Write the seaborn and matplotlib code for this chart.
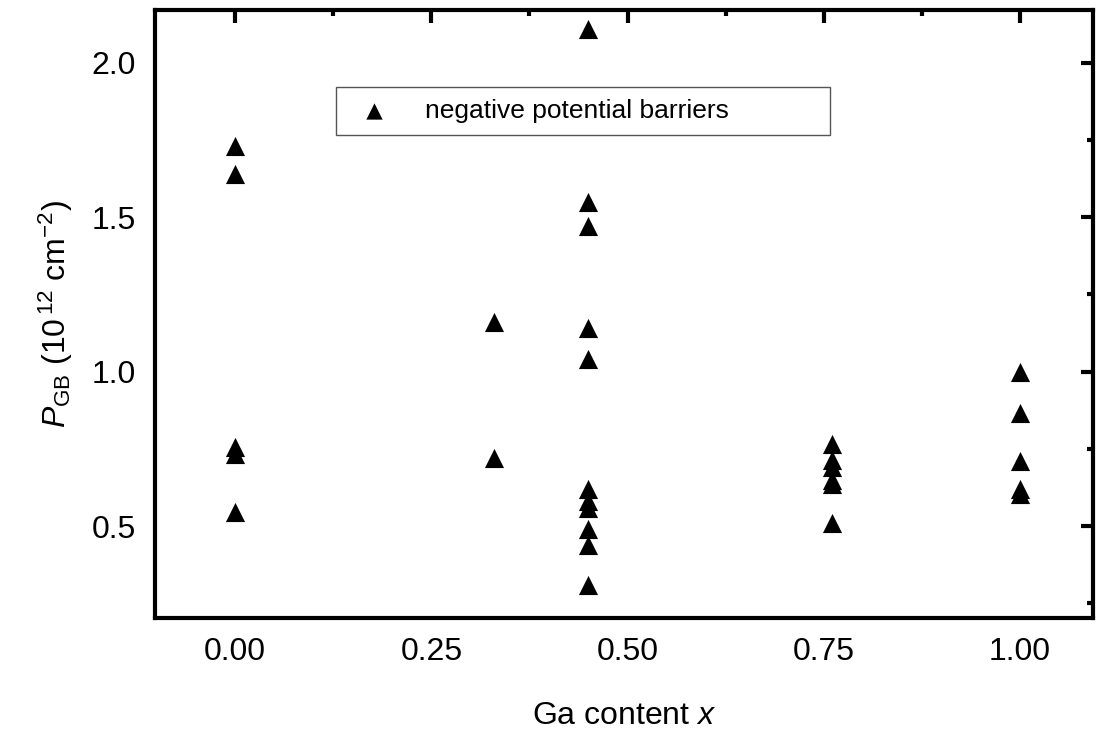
import pandas as pd
import numpy as np
import matplotlib
matplotlib.use("Agg")
import matplotlib.pyplot as plt
import seaborn as sns
from matplotlib.ticker import MultipleLocator, FormatStrFormatter

# Ga content of each sample group
ga_levels = [0.0, 0.33, 0.45, 0.76, 1.0]

# P_GB (10^12 cm^-2) measured per group
p_gb_000 = [1.73, 1.64, 0.755, 0.735, 0.545]
p_gb_033 = [1.16, 0.72]
p_gb_045 = [2.11, 1.55, 1.47, 1.14, 1.04, 0.62, 0.58, 0.56, 0.49, 0.44, 0.31]
p_gb_076 = [0.765, 0.715, 0.69, 0.65, 0.635, 0.51]
p_gb_100 = [1.0, 0.865, 0.71, 0.62, 0.605]

LABEL = "negative potential barriers"


def build_frame() -> pd.DataFrame:
    groups = [p_gb_000, p_gb_033, p_gb_045, p_gb_076, p_gb_100]
    rows = []
    for x, vals in zip(ga_levels, groups):
        for v in vals:
            rows.append({"x": x, "p_gb": v})
    return pd.DataFrame(rows)


df = build_frame()

sns.set_style("white")
plt.rcParams["font.family"] = ["Liberation Sans", "DejaVu Sans"]
plt.rcParams["mathtext.fontset"] = "custom"
plt.rcParams["mathtext.rm"] = "Liberation Sans"
plt.rcParams["mathtext.it"] = "Liberation Sans:italic"
plt.rcParams["text.color"] = "black"
plt.rcParams["axes.labelcolor"] = "black"
plt.rcParams["xtick.color"] = "black"
plt.rcParams["ytick.color"] = "black"

fig, ax = plt.subplots(figsize=(11, 7.47), dpi=100)
fig.subplots_adjust(left=0.141, right=0.9936, top=0.9866, bottom=0.1727)

sns.scatterplot(data=df, x="x", y="p_gb", marker="^", color="black",
                s=190, edgecolor="black", linewidth=0, label=LABEL, ax=ax)

ax.set_xlim(-0.102, 1.093)
ax.set_ylim(0.203, 2.17)
ax.xaxis.set_major_locator(MultipleLocator(0.25))
ax.xaxis.set_minor_locator(MultipleLocator(0.125))
ax.yaxis.set_major_locator(MultipleLocator(0.5))
ax.yaxis.set_minor_locator(MultipleLocator(0.25))
ax.xaxis.set_major_formatter(FormatStrFormatter("%.2f"))
ax.yaxis.set_major_formatter(FormatStrFormatter("%.1f"))

for s in ax.spines.values():
    s.set_linewidth(3)
    s.set_color("black")

ax.tick_params(which="major", direction="in", length=9, width=3,
               top=True, right=True, labelsize=23, pad=14)
ax.tick_params(which="minor", direction="in", length=4, width=3,
               top=True, right=True)

ax.set_xlabel(r"Ga content $\mathit{x}$", fontsize=23, labelpad=24)
ax.set_ylabel(r"$\mathit{P}_{\mathrm{GB}}$ (10$^{\,12}$ cm$^{-2}$)", fontsize=23, labelpad=12)

leg = ax.legend(loc="upper left", bbox_to_anchor=(0.193, 0.873, 0.527, 0.0),
                mode="expand", borderaxespad=0, fancybox=False, framealpha=1,
                edgecolor="#555555", fontsize=19, handletextpad=0.9,
                borderpad=0.45, markerscale=0.85)
leg.get_frame().set_linewidth(1)

fig.savefig("out.png", dpi=100)
